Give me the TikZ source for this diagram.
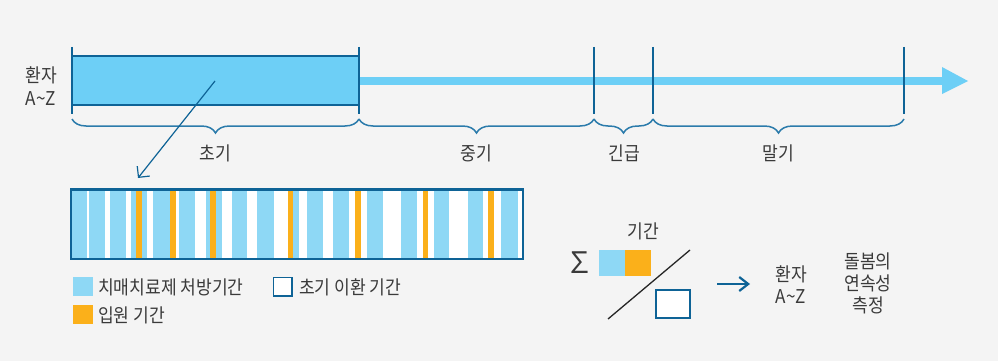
\documentclass[tikz,border=0pt]{standalone}
\usepackage{fontspec}
\setmainfont[FakeStretch=0.9]{Noto Sans CJK KR}
\usetikzlibrary{decorations.pathreplacing,arrows.meta}
\definecolor{dk}{HTML}{0E6396}
\definecolor{barc}{HTML}{6DCFF6}
\definecolor{lb}{HTML}{8ED8F5}
\definecolor{org}{HTML}{FBB01A}
\definecolor{txt}{HTML}{3A3A3A}
\definecolor{bgc}{HTML}{F4F4F4}
\definecolor{brc}{HTML}{2B7BAB}
\tikzset{
  lbl/.style={inner sep=0pt, text=txt, font=\fontsize{19}{22}\selectfont, align=center},
  tickline/.style={draw=dk, line width=1.2pt},
  bracec/.style={draw=brc, line width=1.5pt, decorate, decoration={brace,mirror,amplitude=14pt}},
  stripeb/.style={fill=lb},
  stripeo/.style={fill=org},
}
\begin{document}
\begin{tikzpicture}[x=1pt,y=-1pt]
\fill[bgc] (0,0) rectangle (998,361);
\useasboundingbox (0,0) rectangle (998,361);

% timeline arrow
\coordinate (ar0) at (359,81);
\coordinate (ar1) at (943,81);
\draw[barc, line width=8pt] (ar0) -- (ar1);
\fill[barc] (942,67) -- (968,81) -- (942,94) -- cycle;

% early bar
\draw[fill=barc, draw=dk, line width=1.2pt] (72,56) rectangle (359,105);

% ticks
\foreach \x in {72,359,594,653,904} {\draw[tickline] (\x,47) -- (\x,114);}

% braces
\draw[bracec] (72,119) -- (359,119);
\draw[bracec] (359,119) -- (594,119);
\draw[bracec] (594,119) -- (653,119);
\draw[bracec] (653,119) -- (904,119);

\node[lbl] (l1) at (215,153) {초기};
\node[lbl] (l2) at (476,153) {중기};
\node[lbl] (l3) at (624,153) {긴급};
\node[lbl] (l4) at (778,153) {말기};

\node[lbl, font=\fontsize{19}{22.5}\selectfont] (pat) at (41,86) {환자\\A\textasciitilde Z};

% stripe bar
\fill[white] (71,189.5) rectangle (523,259);
\foreach \a/\b in {72/87,89/105,110/126,131/147,153/170,179/195,206/222,232/247,257/274,293/299,307/323,333/349,367/383,401/417,434/449,468/483,501/518}
  {\fill[stripeb] (\a,190.5) rectangle (\b,258);}
\foreach \a/\b in {136/142,170/176,210/216,288/293,355/361,423/428,488/494}
  {\fill[stripeo] (\a,190.5) rectangle (\b,258);}
\draw[dk, line width=2.5pt] (71,189.5) rectangle (523,259);

% diagonal arrow
\coordinate (d0) at (215,81);
\coordinate (d1) at (138,178);
\draw[dk, line width=1.2pt, -{Straight Barb[length=8pt,width=16pt]}] (d0) -- (d1);

% legend
\fill[lb] (73,277) rectangle (93,296);
\node[lbl, anchor=west] (lg1) at (98,287) {치매치료제 처방기간};
\draw[dk, fill=white, line width=1.5pt] (273.5,277.5) rectangle (292,296);
\node[lbl, anchor=west] (lg2) at (299,287) {초기 이환 기간};
\fill[org] (73,305) rectangle (93,324);
\node[lbl, anchor=west] (lg3) at (98,315) {입원 기간};

% right formula
\node[lbl, font=\fontsize{30}{30}\selectfont] (sig) at (580,263) {∑};
\node[lbl] (per) at (643,231) {기간};
\fill[lb] (599,250) rectangle (625,276);
\fill[org] (625,250) rectangle (651,276);
\coordinate (s0) at (608,319);
\coordinate (s1) at (690,250);
\draw[black!85, line width=1.3pt] (s0) -- (s1);
\draw[dk, fill=white, line width=2.5pt] (656,290) rectangle (690,318);

\coordinate (r0) at (717,284);
\coordinate (r1) at (750,284);
\draw[dk, line width=2.2pt, -{Straight Barb[length=9pt,width=14pt]}] (r0) -- (r1);

\node[lbl] (pat2) at (791,284.5) {환자\\A\textasciitilde Z};
\node[lbl] (cont) at (868,283) {돌봄의\\연속성\\측정};
\end{tikzpicture}
\end{document}
